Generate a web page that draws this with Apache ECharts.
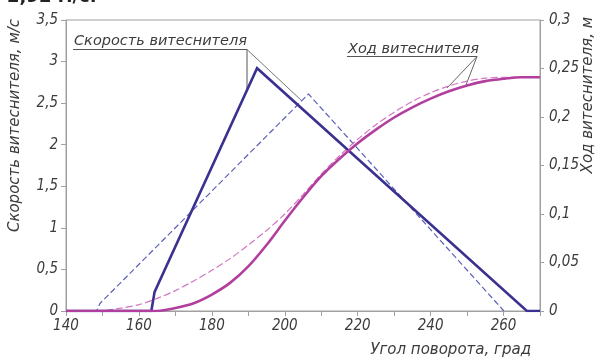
<!DOCTYPE html>
<html>
<head>
<meta charset="utf-8">
<script src="https://cdn.jsdelivr.net/npm/echarts@6/dist/echarts.min.js"></script>
<style>
  html, body { margin: 0; padding: 0; background: #ffffff; }
  #chart { width: 600px; height: 359px; }
</style>
</head>
<body>
<div id="chart"></div>
<script>
// Displacer velocity (m/s) and stroke (m) versus crank rotation angle (deg)

// velocity, design curve (solid)
const velSolidAngle = [140, 163.4, 164.3, 192.4, 266.4, 270];
const velSolidValue = [0, 0, 0.23, 2.92, 0, 0];

// velocity, reference curve (dashed)
const velDashAngle = [140, 148.4, 149.3, 206.5, 260.1];
const velDashValue = [0, 0, 0.09, 2.61, 0];

// stroke, design curve (solid)
const strokeSolidAngle = [140, 165, 170, 175, 180, 185, 190, 195, 200, 205, 210, 215, 220, 225, 230, 235, 240, 245, 250, 255, 260, 265, 270];
const strokeSolidValue = [0, 0, 0.003, 0.008, 0.017, 0.029, 0.046, 0.068, 0.093, 0.117, 0.139, 0.157, 0.173, 0.187, 0.1995, 0.210, 0.219, 0.2265, 0.2325, 0.237, 0.2395, 0.241, 0.241];

// stroke, reference curve (dashed)
const strokeDashAngle = [140, 148.4, 155, 160, 165, 170, 175, 180, 185, 190, 195, 200, 205, 210, 215, 220, 225, 230, 235, 240, 245, 250, 255, 260, 270];
const strokeDashValue = [0, 0, 0.003, 0.0065, 0.013, 0.021, 0.031, 0.042, 0.054, 0.068, 0.083, 0.100, 0.120, 0.141, 0.160, 0.177, 0.192, 0.205, 0.216, 0.225, 0.232, 0.237, 0.240, 0.241, 0.241];

// axis settings
const angleMin = 140, angleMax = 270, angleStep = 10, angleLabelStep = 20;
const velMin = 0, velMax = 3.5, velStep = 0.5;
const strokeMin = 0, strokeMax = 0.3, strokeStep = 0.05;

const pairs = (xs, ys) => xs.map((x, i) => [x, ys[i]]);
const comma = v => String(+v.toFixed(3)).replace('.', ',');

const NUMFONT = "'DejaVu Sans Condensed', 'DejaVu Sans', sans-serif";
const FONT = "'DejaVu Sans', sans-serif";
const TXT = '#3c3c3c';
const AXIS = '#a0a0a0';

const labelStyle = { fontFamily: NUMFONT, fontStyle: 'italic', fontSize: 15, color: TXT };

const chart = echarts.init(document.getElementById('chart'), null, { renderer: 'canvas' });

chart.setOption({
  animation: false,
  backgroundColor: '#ffffff',
  grid: { left: 66, right: 60, top: 20, bottom: 48, show: true, borderColor: AXIS, borderWidth: 1 },
  xAxis: {
    type: 'value', min: angleMin, max: angleMax, interval: angleStep,
    axisLine: { lineStyle: { color: AXIS } },
    axisTick: { length: 5, lineStyle: { color: AXIS } },
    splitLine: { show: false },
    axisLabel: Object.assign({}, labelStyle, {
      margin: 8,
      formatter: v => ((v - angleMin) % angleLabelStep === 0 && v < angleMax) ? String(v) : ''
    })
  },
  yAxis: [
    {
      type: 'value', min: velMin, max: velMax, interval: velStep,
      axisLine: { show: true, lineStyle: { color: AXIS } },
      axisTick: { show: true, length: 5, lineStyle: { color: AXIS } },
      splitLine: { show: false },
      axisLabel: Object.assign({}, labelStyle, { margin: 8, formatter: comma })
    },
    {
      type: 'value', min: strokeMin, max: strokeMax, interval: strokeStep, position: 'right',
      axisLine: { show: true, lineStyle: { color: AXIS } },
      axisTick: { show: true, length: 4, lineStyle: { color: AXIS } },
      splitLine: { show: false },
      axisLabel: Object.assign({}, labelStyle, { margin: 9, formatter: comma })
    }
  ],
  series: [
    {
      name: 'Скорость (пунктир)', type: 'line', yAxisIndex: 0, symbol: 'none',
      data: pairs(velDashAngle, velDashValue),
      lineStyle: { color: '#5a61b6', width: 1.2, type: [6, 3] }, z: 2
    },
    {
      name: 'Ход (пунктир)', type: 'line', yAxisIndex: 1, symbol: 'none', smooth: 0.3,
      data: pairs(strokeDashAngle, strokeDashValue),
      lineStyle: { color: '#d276c4', width: 1.2, type: [7, 3] }, z: 3
    },
    {
      name: 'Скорость', type: 'line', yAxisIndex: 0, symbol: 'none',
      data: pairs(velSolidAngle, velSolidValue),
      lineStyle: { color: '#3b3190', width: 2.6, join: 'miter' }, z: 4
    },
    {
      name: 'Ход', type: 'line', yAxisIndex: 1, symbol: 'none', smooth: 0.3,
      data: pairs(strokeSolidAngle, strokeSolidValue),
      lineStyle: { color: '#b23e9e', width: 2.6 }, z: 5
    }
  ],
  graphic: [
    // peak velocity caption at the very top edge
    { type: 'text', left: 7, top: -12, style: { text: '2,92 м/с.', fontFamily: FONT, fontSize: 18, fontWeight: 'bold', fill: '#222' } },
    // axis titles
    { type: 'text', x: 15, y: 19, rotation: Math.PI / 2,
      style: { text: 'Скорость витеснителя, м/с', fontFamily: FONT, fontStyle: 'italic', fontSize: 15, fill: TXT, align: 'right', verticalAlign: 'middle' } },
    { type: 'text', x: 588, y: 17, rotation: Math.PI / 2,
      style: { text: 'Ход витеснителя, м', fontFamily: FONT, fontStyle: 'italic', fontSize: 15, fill: TXT, align: 'right', verticalAlign: 'middle' } },
    { type: 'text', x: 531, y: 350,
      style: { text: 'Угол поворота, град', fontFamily: FONT, fontStyle: 'italic', fontSize: 15, fill: TXT, align: 'right', verticalAlign: 'middle' } },
    // callout: velocity
    { type: 'text', x: 74, y: 41,
      style: { text: 'Скорость витеснителя', fontFamily: FONT, fontStyle: 'italic', fontSize: 14.5, fill: TXT, align: 'left', verticalAlign: 'middle' } },
    { type: 'polyline', shape: { points: [[73, 49.5], [247, 49.5], [247, 90]] }, style: { stroke: '#555', lineWidth: 1, fill: null } },
    { type: 'line', shape: { x1: 247, y1: 49.5, x2: 302, y2: 101 }, style: { stroke: '#777', lineWidth: 1 } },
    // callout: stroke
    { type: 'text', x: 348, y: 49,
      style: { text: 'Ход витеснителя', fontFamily: FONT, fontStyle: 'italic', fontSize: 14.5, fill: TXT, align: 'left', verticalAlign: 'middle' } },
    { type: 'line', shape: { x1: 347, y1: 56.5, x2: 477, y2: 56.5 }, style: { stroke: '#555', lineWidth: 1 } },
    { type: 'line', shape: { x1: 477, y1: 56.5, x2: 447, y2: 88 }, style: { stroke: '#666', lineWidth: 1 } },
    { type: 'line', shape: { x1: 477, y1: 56.5, x2: 466, y2: 85 }, style: { stroke: '#666', lineWidth: 1 } }
  ]
});
</script>
</body>
</html>
